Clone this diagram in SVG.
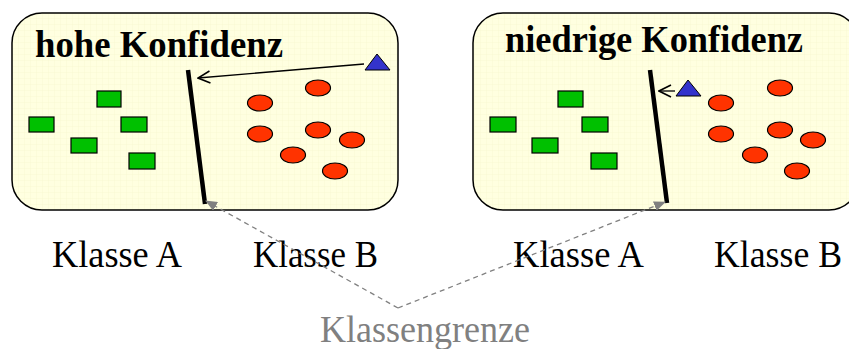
<svg xmlns="http://www.w3.org/2000/svg" width="849" height="349" viewBox="0 0 849 349">
<style>
.box{fill:url(#grid);stroke:#000;stroke-width:1.5}
.title{font-family:"Liberation Serif","Times New Roman",serif;font-weight:bold;font-size:38px;fill:#000}
.lbl{font-family:"Liberation Serif","Times New Roman",serif;font-size:38px;fill:#000}
.glbl{font-family:"Liberation Serif","Times New Roman",serif;font-size:37px;fill:#808080}
.sq{fill:#00C000;stroke:#000;stroke-width:1.2}
.el{fill:#FF3300;stroke:#000;stroke-width:1.2}
.tri{fill:#3333CC;stroke:#000;stroke-width:1}
.bound{stroke:#000;stroke-width:4.5;fill:none}
.arr{stroke:#000;stroke-width:1.3;fill:none;marker-end:url(#open)}
.dash{stroke:#808080;stroke-width:1.3;stroke-dasharray:5,4;fill:none;marker-end:url(#gray)}
</style>
<defs>
<pattern id="grid" width="6" height="6" patternUnits="userSpaceOnUse">
<rect width="6" height="6" fill="#FFFFE0"/>
<path d="M0 0H6M0 0V6" stroke="#F3F3CC" stroke-width="0.6"/>
</pattern>
<marker id="open" viewBox="0 0 14 14" refX="13" refY="7" markerWidth="14" markerHeight="14" markerUnits="userSpaceOnUse" orient="auto">
<path d="M1 1L13 7L1 13" fill="none" stroke="#000" stroke-width="1.6"/>
</marker>
<marker id="gray" viewBox="0 0 12 10" refX="11" refY="5" markerWidth="12" markerHeight="10" markerUnits="userSpaceOnUse" orient="auto">
<path d="M0 0L12 5L0 10z" fill="#808080"/>
</marker>
</defs>

<g id="panel-high">
<rect class="box" x="12" y="13" width="386" height="197" rx="30" ry="30"/>
<text class="title" x="35" y="57" textLength="248" lengthAdjust="spacingAndGlyphs">hohe Konfidenz</text>
<rect class="sq" x="97" y="91" width="24" height="16"/>
<rect class="sq" x="29" y="117" width="25" height="15"/>
<rect class="sq" x="121" y="117" width="26" height="15"/>
<rect class="sq" x="71" y="138" width="26" height="15"/>
<rect class="sq" x="129" y="153" width="26" height="16"/>
<ellipse class="el" cx="318" cy="88" rx="12.5" ry="8"/>
<ellipse class="el" cx="260" cy="103" rx="12.5" ry="8"/>
<ellipse class="el" cx="260" cy="134" rx="12.5" ry="8"/>
<ellipse class="el" cx="318" cy="130" rx="12.5" ry="8"/>
<ellipse class="el" cx="352" cy="140" rx="12.5" ry="8"/>
<ellipse class="el" cx="293" cy="155" rx="12.5" ry="8"/>
<ellipse class="el" cx="335" cy="171" rx="12.5" ry="8"/>
<polygon class="tri" points="377,54 365,70 390,70"/>
<line class="bound" x1="188" y1="70" x2="205" y2="204"/>
</g>

<g id="panel-low">
<rect class="box" x="473" y="13" width="386" height="197" rx="30" ry="30"/>
<text class="title" x="505" y="52" textLength="298" lengthAdjust="spacingAndGlyphs">niedrige Konfidenz</text>
<rect class="sq" x="558" y="91" width="25" height="16"/>
<rect class="sq" x="490" y="117" width="26" height="15"/>
<rect class="sq" x="582" y="117" width="26" height="15"/>
<rect class="sq" x="532" y="138" width="26" height="15"/>
<rect class="sq" x="591" y="153" width="26" height="16"/>
<ellipse class="el" cx="780" cy="88" rx="12.5" ry="8"/>
<ellipse class="el" cx="721" cy="103" rx="12.5" ry="8"/>
<ellipse class="el" cx="721" cy="134" rx="12.5" ry="8"/>
<ellipse class="el" cx="780" cy="130" rx="12.5" ry="8"/>
<ellipse class="el" cx="813" cy="140" rx="12.5" ry="8"/>
<ellipse class="el" cx="755" cy="155" rx="12.5" ry="8"/>
<ellipse class="el" cx="797" cy="171" rx="12.5" ry="8"/>
<polygon class="tri" points="688,80 676,96 701,96"/>
<line class="bound" x1="650" y1="70" x2="667" y2="203"/>
</g>

<g id="labels">
<text class="lbl" x="52" y="267" textLength="130" lengthAdjust="spacingAndGlyphs">Klasse A</text>
<text class="lbl" x="253" y="267" textLength="125" lengthAdjust="spacingAndGlyphs">Klasse B</text>
<text class="lbl" x="513" y="267" textLength="131" lengthAdjust="spacingAndGlyphs">Klasse A</text>
<text class="lbl" x="714" y="267" textLength="128" lengthAdjust="spacingAndGlyphs">Klasse B</text>
<text class="glbl" x="320" y="342" textLength="210" lengthAdjust="spacingAndGlyphs">Klassengrenze</text>
</g>

<g id="connectors">
<line class="arr" x1="364" y1="64" x2="198" y2="78"/>
<line class="arr" x1="675" y1="91" x2="659" y2="91"/>
<line class="dash" x1="398" y1="308" x2="206" y2="201"/>
<line class="dash" x1="398" y1="308" x2="665" y2="202"/>
</g>
</svg>
